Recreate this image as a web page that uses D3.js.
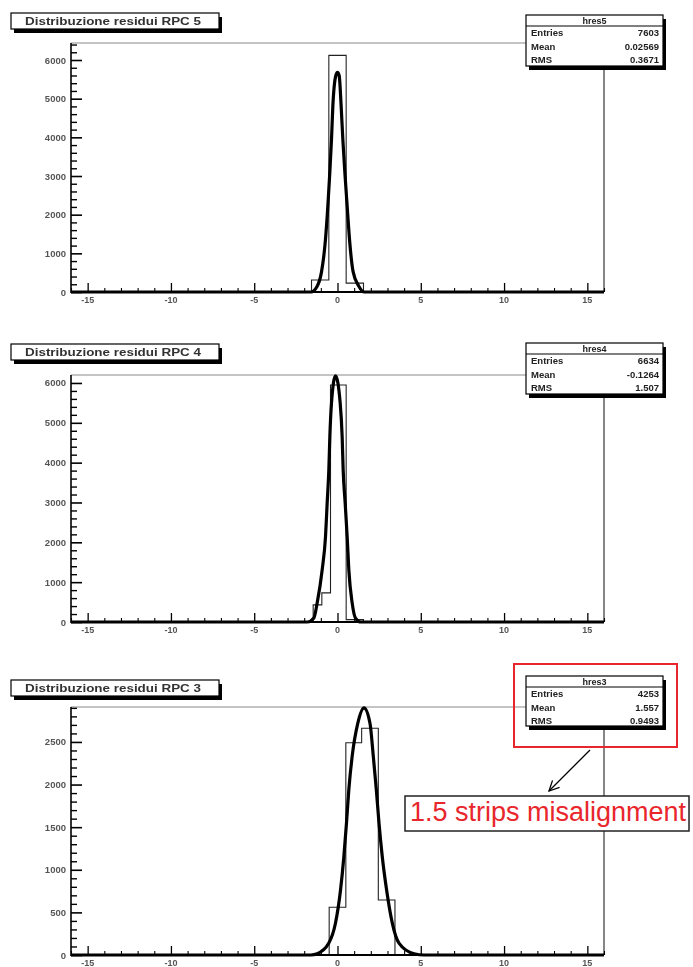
<!DOCTYPE html>
<html>
<head>
<meta charset="utf-8">
<script src="https://cdn.jsdelivr.net/npm/d3@7"></script>
<style>
  html, body { margin: 0; padding: 0; background: #fff; }
  svg { display: block; }
</style>
</head>
<body>
<svg id="chart" width="693" height="967"></svg>
<script>
// Residual distributions for three RPC chambers (histogram + gaussian fit)
const titles = ["Distribuzione residui RPC 5", "Distribuzione residui RPC 4", "Distribuzione residui RPC 3"];
const statNames = ["hres5", "hres4", "hres3"];
const statEntries = ["7603", "6634", "4253"];
const statMeans = ["0.02569", "-0.1264", "1.557"];
const statRMS = ["0.3671", "1.507", "0.9493"];

const xTicks = [-15, -10, -5, 0, 5, 10, 15];
const yTicksRpc5 = [0, 1000, 2000, 3000, 4000, 5000, 6000];
const yTicksRpc4 = [0, 1000, 2000, 3000, 4000, 5000, 6000];
const yTicksRpc3 = [0, 500, 1000, 1500, 2000, 2500];

// histogram bin edges and contents
const edgesRpc5 = [-1.56, -0.52, 0.52, 1.56];
const countsRpc5 = [310, 6120, 230];
const edgesRpc4 = [-1.46, -0.94, -0.42, 0.52, 1.56];
const countsRpc4 = [430, 730, 5950, 60];
const edgesRpc3 = [-0.5, 0.5, 1.45, 2.45, 3.45];
const countsRpc3 = [560, 2490, 2660, 645];

// fitted curve, sampled points
const fitXRpc5 = [-16, -1.6, -1.22, -0.96, -0.72, -0.58, -0.46, -0.36, -0.28, -0.1, 0, 0.1, 0.22, 0.32, 0.44, 0.58, 0.72, 0.94, 1.28, 1.6, 16];
const fitYRpc5 = [0, 0, 150, 520, 1370, 2220, 3100, 3950, 4800, 5600, 5680, 5600, 4800, 3950, 3100, 2220, 1370, 520, 150, 0, 0];
const fitXRpc4 = [-16, -1.8, -1.42, -1.22, -0.92, -0.72, -0.62, -0.52, -0.46, -0.36, -0.12, 0.16, 0.28, 0.34, 0.46, 0.58, 0.68, 0.88, 1.08, 1.4, 16];
const fitYRpc4 = [0, 0, 100, 480, 1310, 2140, 2990, 3820, 4650, 5500, 6180, 5500, 4650, 3820, 2990, 2140, 1310, 480, 100, 0, 0];
const fitXRpc3 = [-16, -1.6, -1.22, -0.52, -0.12, 0.18, 0.38, 0.54, 0.68, 0.88, 1.22, 1.59, 1.95, 2.15, 2.33, 2.49, 2.69, 2.95, 3.29, 3.69, 4.6, 5.2, 16];
const fitYRpc3 = [0, 0, 15, 140, 375, 760, 1150, 1550, 1940, 2330, 2720, 2900, 2720, 2330, 1940, 1550, 1150, 760, 375, 140, 15, 0, 0];

const panels = [
  { title: titles[0], stat: [statNames[0], statEntries[0], statMeans[0], statRMS[0]], yTicks: yTicksRpc5, yMinorStep: 200,
    edges: edgesRpc5, counts: countsRpc5, fitX: fitXRpc5, fitY: fitYRpc5 },
  { title: titles[1], stat: [statNames[1], statEntries[1], statMeans[1], statRMS[1]], yTicks: yTicksRpc4, yMinorStep: 200,
    edges: edgesRpc4, counts: countsRpc4, fitX: fitXRpc4, fitY: fitYRpc4 },
  { title: titles[2], stat: [statNames[2], statEntries[2], statMeans[2], statRMS[2]], yTicks: yTicksRpc3, yMinorStep: 100,
    edges: edgesRpc3, counts: countsRpc3, fitX: fitXRpc3, fitY: fitYRpc3 }
];

// layout of each pad
const layout = [
  { top: 43, bottom: 292, yMax: 6440, titleY: 13, statY: 15, statH: 51 },
  { top: 375, bottom: 622, yMax: 6200, titleY: 344, statY: 343, statH: 51 },
  { top: 707, bottom: 955, yMax: 2910, titleY: 680, statY: 676, statH: 50 }
];
const frameLeft = 71, frameRight = 604;
const statLeft = 526, statRight = 663;

const svg = d3.select("#chart");
const root = svg.append("g").attr("class", "pads");

const defs = svg.append("defs");
defs.append("filter").attr("id", "soft")
  .append("feGaussianBlur").attr("stdDeviation", 0.55);
defs.append("marker").attr("id", "head").attr("viewBox", "0 0 12 12")
  .attr("refX", 11).attr("refY", 6).attr("markerWidth", 12).attr("markerHeight", 12)
  .attr("markerUnits", "userSpaceOnUse").attr("orient", "auto")
  .append("path").attr("d", "M1,1 L11,6 L1,11").attr("fill", "none").attr("stroke", "#000").attr("stroke-width", 1.3);

const x = d3.scaleLinear().domain([-16, 16]).range([frameLeft, frameRight]);
const font = "'Liberation Sans', Arial, sans-serif";

panels.forEach((p, i) => {
  const L = layout[i];
  const y = d3.scaleLinear().domain([0, L.yMax]).range([L.bottom, L.top]);
  const g = root.append("g").attr("filter", "url(#soft)");

  // frame
  g.append("line").attr("x1", frameLeft).attr("x2", frameRight).attr("y1", L.top).attr("y2", L.top)
    .attr("stroke", "#8a8a8a").attr("stroke-width", 1.2);
  g.append("line").attr("x1", frameRight).attr("x2", frameRight).attr("y1", L.top).attr("y2", L.bottom)
    .attr("stroke", "#444").attr("stroke-width", 1.3);

  // histogram outline
  const pts = [];
  p.counts.forEach((c, k) => {
    pts.push([p.edges[k], 0 === k ? 0 : p.counts[k - 1]]);
    pts.push([p.edges[k], c]);
  });
  pts.push([p.edges[p.edges.length - 1], p.counts[p.counts.length - 1]]);
  pts.push([p.edges[p.edges.length - 1], 0]);
  g.append("path")
    .attr("d", d3.line().x(d => x(d[0])).y(d => y(d[1]))(pts))
    .attr("fill", "none").attr("stroke", "#222").attr("stroke-width", 1.1);

  // fit curve
  const fit = p.fitX.map((v, k) => [v, p.fitY[k]]);
  g.append("path")
    .attr("d", d3.line().x(d => x(d[0])).y(d => y(d[1])).curve(d3.curveMonotoneX)(fit))
    .attr("fill", "none").attr("stroke", "#000").attr("stroke-width", 3.2).attr("stroke-linejoin", "round");

  // y axis
  const yMinor = d3.range(0, L.yMax, p.yMinorStep);
  const yAxis = d3.axisRight(y).tickValues(p.yTicks).tickSize(11).tickFormat("");
  const ya = g.append("g").attr("transform", `translate(${frameLeft},0)`).call(yAxis);
  ya.select(".domain").remove();
  ya.selectAll(".tick line").attr("stroke", "#000").attr("stroke-width", 1.6);
  const ym = g.append("g").attr("transform", `translate(${frameLeft},0)`)
    .call(d3.axisRight(y).tickValues(yMinor.filter(v => p.yTicks.indexOf(v) < 0)).tickSize(6).tickFormat(""));
  ym.select(".domain").remove();
  ym.selectAll(".tick line").attr("stroke", "#000").attr("stroke-width", 1.4);
  g.append("line").attr("x1", frameLeft).attr("x2", frameLeft).attr("y1", L.top).attr("y2", L.bottom + 1)
    .attr("stroke", "#000").attr("stroke-width", 1.6);
  g.selectAll(".ylab").data(p.yTicks).join("text")
    .attr("x", frameLeft - 5).attr("y", d => y(d) + 3.5)
    .attr("text-anchor", "end").attr("font-family", font).attr("font-size", 9.5).attr("font-weight", "bold")
    .attr("fill", "#555").text(d => d);

  // x axis
  const xa = g.append("g").attr("transform", `translate(0,${L.bottom})`)
    .call(d3.axisTop(x).tickValues(xTicks).tickSize(9).tickFormat(""));
  xa.select(".domain").remove();
  xa.selectAll(".tick line").attr("stroke", "#000").attr("stroke-width", 1.3);
  const xm = g.append("g").attr("transform", `translate(0,${L.bottom})`)
    .call(d3.axisTop(x).tickValues(d3.range(-16, 17).filter(v => xTicks.indexOf(v) < 0)).tickSize(4).tickFormat(""));
  xm.select(".domain").remove();
  xm.selectAll(".tick line").attr("stroke", "#000").attr("stroke-width", 1.1);
  g.append("line").attr("x1", frameLeft).attr("x2", frameRight).attr("y1", L.bottom).attr("y2", L.bottom)
    .attr("stroke", "#000").attr("stroke-width", 2.2);
  g.selectAll(".xlab").data(xTicks).join("text")
    .attr("x", d => x(d)).attr("y", L.bottom + 11)
    .attr("text-anchor", "middle").attr("font-family", font).attr("font-size", 9).attr("font-weight", "bold")
    .attr("fill", "#555").text(d => d);

  // title box
  const tb = g.append("g").attr("transform", `translate(11,${L.titleY})`);
  tb.append("rect").attr("x", 3).attr("y", 4).attr("width", 208).attr("height", 16).attr("fill", "#000");
  tb.append("rect").attr("x", 0).attr("y", 0).attr("width", 208).attr("height", 16)
    .attr("fill", "#fff").attr("stroke", "#000").attr("stroke-width", 1.2);
  tb.append("text").attr("x", 14).attr("y", 11.5)
    .attr("textLength", 176).attr("lengthAdjust", "spacingAndGlyphs")
    .attr("font-family", font).attr("font-size", 10.5).attr("font-weight", "bold").attr("fill", "#333")
    .text(p.title);

  // statistics box
  const sb = g.append("g").attr("transform", `translate(${statLeft},${L.statY})`);
  const sw = statRight - statLeft;
  sb.append("rect").attr("x", 3).attr("y", 4).attr("width", sw).attr("height", L.statH).attr("fill", "#000");
  sb.append("rect").attr("x", 0).attr("y", 0).attr("width", sw).attr("height", L.statH)
    .attr("fill", "#fff").attr("stroke", "#000").attr("stroke-width", 1.2);
  sb.append("line").attr("x1", 0).attr("x2", sw).attr("y1", 11).attr("y2", 11).attr("stroke", "#000");
  sb.append("text").attr("x", sw / 2).attr("y", 9).attr("text-anchor", "middle")
    .attr("font-family", font).attr("font-size", 9).attr("font-weight", "bold").attr("fill", "#222").text(p.stat[0]);
  const rows = ["Entries", "Mean", "RMS"];
  rows.forEach((r, k) => {
    sb.append("text").attr("x", 5).attr("y", 21 + k * 13.5).attr("font-family", font).attr("font-size", 9.5)
      .attr("font-weight", "bold").attr("fill", "#222").text(r);
    sb.append("text").attr("x", sw - 4).attr("y", 21 + k * 13.5).attr("text-anchor", "end").attr("font-family", font)
      .attr("font-size", 9.5).attr("font-weight", "bold").attr("fill", "#222").text(p.stat[k + 1]);
  });
});

// annotation
const ann = svg.append("g");
ann.append("rect").attr("x", 514).attr("y", 664).attr("width", 163).attr("height", 83)
  .attr("fill", "none").attr("stroke", "#e8262c").attr("stroke-width", 2);
ann.append("line").attr("x1", 590).attr("y1", 750).attr("x2", 549).attr("y2", 791)
  .attr("stroke", "#000").attr("stroke-width", 1.3).attr("marker-end", "url(#head)");
ann.append("rect").attr("x", 405).attr("y", 796).attr("width", 284).attr("height", 35)
  .attr("fill", "#fff").attr("stroke", "#222").attr("stroke-width", 1.5);
ann.append("text").attr("x", 410).attr("y", 821)
  .attr("font-family", font).attr("font-size", 27).attr("fill", "#e8262c").text("1.5 strips misalignment");
</script>
</body>
</html>
